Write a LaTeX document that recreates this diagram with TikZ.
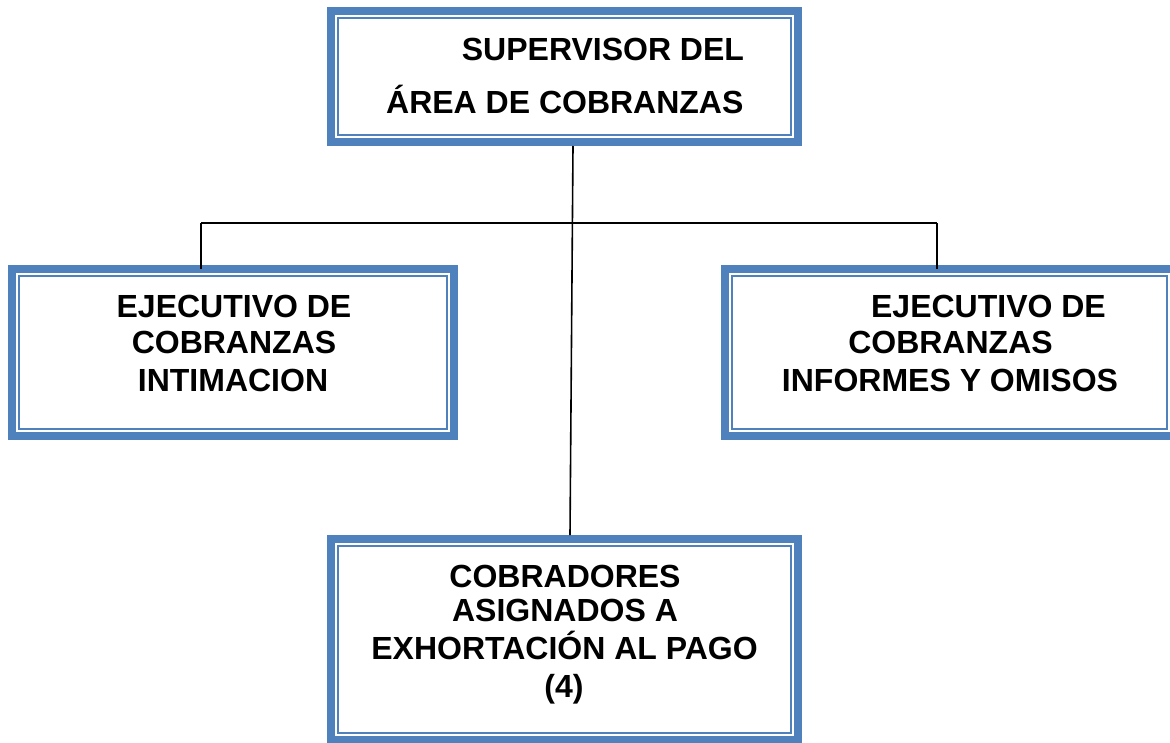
\documentclass[tikz,border=0pt]{standalone}
\usepackage{fontspec}
\setmainfont{Liberation Sans}
\definecolor{boxblue}{HTML}{4F81BD}
\tikzset{
  orgbox/.style={draw=boxblue, line width=8pt, outer sep=0pt, inner sep=0pt},
  innerline/.style={draw=boxblue, line width=2pt},
  txt/.style={font=\fontsize{32}{37}\selectfont\bfseries, inner sep=0pt, outer sep=0pt},
  conn/.style={draw=black, line width=1.6pt}
}
\begin{document}
\begin{tikzpicture}[x=1pt,y=-1pt]
\useasboundingbox (0,0) rectangle (1170,742);
% boxes
\node[orgbox, minimum width=467pt, minimum height=131pt] (nT) at (564.5,76.5) {};
\node[orgbox, minimum width=442pt, minimum height=167pt] (nL) at (233,352.5) {};
\node[orgbox, minimum width=449pt, minimum height=167pt] (nR) at (949.5,352.5) {};
\node[orgbox, minimum width=467pt, minimum height=201pt] (nB) at (564.5,639.5) {};
\foreach \n in {nT,nL,nR,nB}
  \draw[innerline] ([xshift=7pt,yshift=-7pt]\n.north west) rectangle ([xshift=-7pt,yshift=7pt]\n.south east);
% connectors
\coordinate (jc) at (572,223);
\coordinate (jl) at (201,223);
\coordinate (jr) at (937,223);
\draw[conn] ([xshift=8.5pt,yshift=-4pt]nT.south) -- ([xshift=5.5pt,yshift=4pt]nB.north);
\draw[conn] (jl) -- (jr);
\draw[conn] (jl) -- (jl |- nL.north);
\draw[conn] (jr) -- (jr |- nR.north);
% texts
\node[txt, anchor=base east] (t1) at (744,60) {SUPERVISOR DEL};
\node[txt, anchor=base east] (t2) at (743.5,113) {ÁREA DE COBRANZAS};
\node[txt, anchor=base] (l1) at (234,317) {EJECUTIVO DE};
\node[txt, anchor=base] (l2) at (234,353) {COBRANZAS};
\node[txt, anchor=base] (l3) at (233,391) {INTIMACION};
\node[txt, anchor=base] (r1) at (988.5,317) {EJECUTIVO DE};
\node[txt, anchor=base] (r2) at (950.5,353) {COBRANZAS};
\node[txt, anchor=base] (r3) at (950,391) {INFORMES Y OMISOS};
\node[txt, anchor=base] (b1) at (565,587) {COBRADORES};
\node[txt, anchor=base] (b2) at (565,621) {ASIGNADOS A};
\node[txt, anchor=base] (b3) at (564.5,659) {EXHORTACIÓN AL PAGO};
\node[txt, anchor=base] (b4) at (564,697) {(4)};
\end{tikzpicture}
\end{document}
